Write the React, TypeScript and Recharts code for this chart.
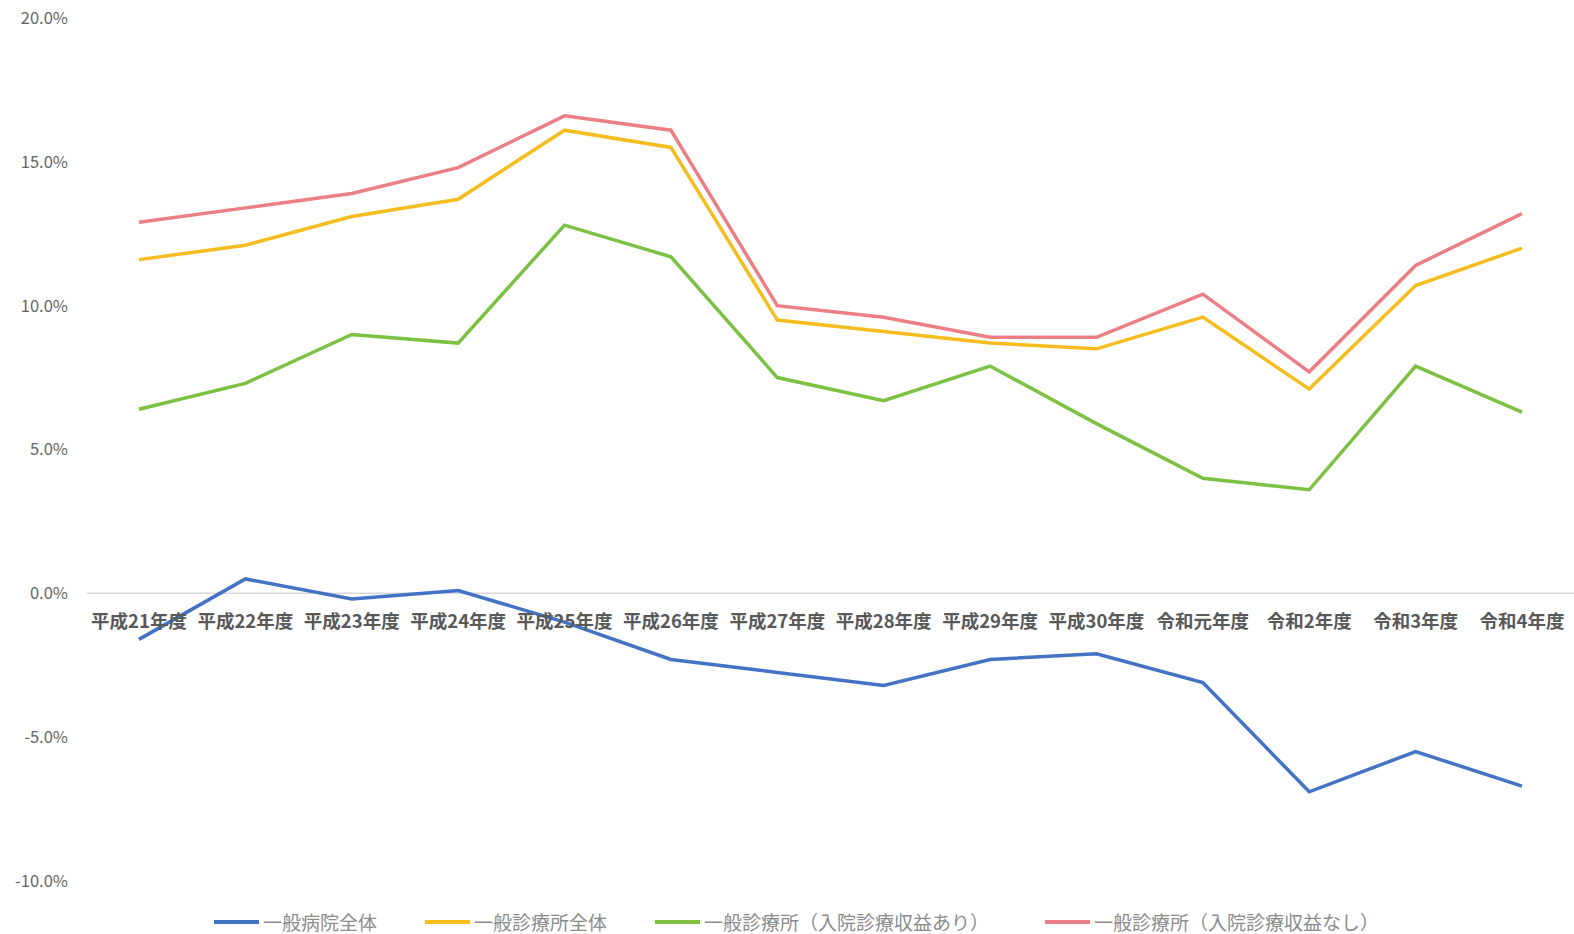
import { Line, LineChart, ReferenceLine, XAxis, YAxis } from "recharts";

const years = [
  "平成21年度",
  "平成22年度",
  "平成23年度",
  "平成24年度",
  "平成25年度",
  "平成26年度",
  "平成27年度",
  "平成28年度",
  "平成29年度",
  "平成30年度",
  "令和元年度",
  "令和2年度",
  "令和3年度",
  "令和4年度",
];

const hospitalAll = [-1.6, 0.5, -0.2, 0.1, -1.0, -2.3, -2.75, -3.2, -2.3, -2.1, -3.1, -6.9, -5.5, -6.7];
const clinicAll = [11.6, 12.1, 13.1, 13.7, 16.1, 15.5, 9.5, 9.1, 8.7, 8.5, 9.6, 7.1, 10.7, 12.0];
const clinicWithBeds = [6.4, 7.3, 9.0, 8.7, 12.8, 11.7, 7.5, 6.7, 7.9, 5.9, 4.0, 3.6, 7.9, 6.3];
const clinicNoBeds = [12.9, 13.4, 13.9, 14.8, 16.6, 16.1, 10.0, 9.6, 8.9, 8.9, 10.4, 7.7, 11.4, 13.2];

const yTicks = [-10, -5, 0, 5, 10, 15, 20];

const series = [
  { key: "hospitalAll", name: "一般病院全体", color: "#4472C4" },
  { key: "clinicAll", name: "一般診療所全体", color: "#F5BD1F" },
  { key: "clinicWithBeds", name: "一般診療所（入院診療収益あり）", color: "#7CC142" },
  { key: "clinicNoBeds", name: "一般診療所（入院診療収益なし）", color: "#EC7E86" },
];

const data = years.map((year, i) => ({
  year,
  hospitalAll: hospitalAll[i],
  clinicAll: clinicAll[i],
  clinicWithBeds: clinicWithBeds[i],
  clinicNoBeds: clinicNoBeds[i],
}));

const WIDTH = 1574;
const HEIGHT = 934;
const XAXIS_H = 30;
const MARGIN = { top: 18, right: 0, bottom: 23, left: 0 };
const Y_MIN = -10;
const Y_MAX = 20;
const PLOT_H = HEIGHT - MARGIN.top - MARGIN.bottom - XAXIS_H;
// x labels sit under the zero line, not at the plot bottom
const ZERO_Y = MARGIN.top + (PLOT_H * Y_MAX) / (Y_MAX - Y_MIN);

const FONT = '"Noto Sans CJK JP", "Noto Sans", sans-serif';

function YearTick({ x, payload }: any) {
  return (
    <text
      x={x}
      y={ZERO_Y + 30}
      textAnchor="middle"
      dominantBaseline="middle"
      fill="#595959"
      fontSize={18.5}
      fontWeight={700}
      fontFamily={FONT}
    >
      {payload.value}
    </text>
  );
}

function LegendBox() {
  return (
    <div
      style={{
        position: "absolute",
        left: 214,
        top: 908,
        display: "flex",
        gap: 48,
        fontFamily: FONT,
        fontSize: 19,
        lineHeight: "28px",
        color: "#8c8c8c",
        whiteSpace: "nowrap",
      }}
    >
      {series.map((s, i) => (
        <div
          key={s.key}
          style={{ display: "flex", alignItems: "center", marginLeft: i === 3 ? 8 : 0 }}
        >
          <span
            style={{
              display: "inline-block",
              width: 45,
              height: 4,
              background: s.color,
              marginRight: 4,
            }}
          />
          {s.name}
        </div>
      ))}
    </div>
  );
}

export default function App() {
  return (
    <div style={{ position: "absolute", left: 0, top: 0, width: WIDTH, height: HEIGHT, background: "#fff" }}>
      <LineChart width={WIDTH} height={HEIGHT} data={data} margin={MARGIN}>
        <XAxis
          dataKey="year"
          height={XAXIS_H}
          axisLine={false}
          tickLine={false}
          interval={0}
          padding={{ left: 52, right: 52 }}
          tick={<YearTick />}
        />
        <YAxis
          width={87}
          domain={[Y_MIN, Y_MAX]}
          ticks={yTicks}
          axisLine={false}
          tickLine={false}
          tickMargin={13}
          tickFormatter={(v: number) => `${v.toFixed(1)}%`}
          tick={{ fill: "#666666", fontSize: 16.5, fontFamily: FONT }}
        />
        <ReferenceLine y={0} stroke="#d9d9d9" strokeWidth={1.5} />
        {series.map((s) => (
          <Line
            key={s.key}
            dataKey={s.key}
            name={s.name}
            stroke={s.color}
            strokeWidth={3.5}
            dot={false}
            type="linear"
            isAnimationActive={false}
          />
        ))}
      </LineChart>
      <LegendBox />
    </div>
  );
}
